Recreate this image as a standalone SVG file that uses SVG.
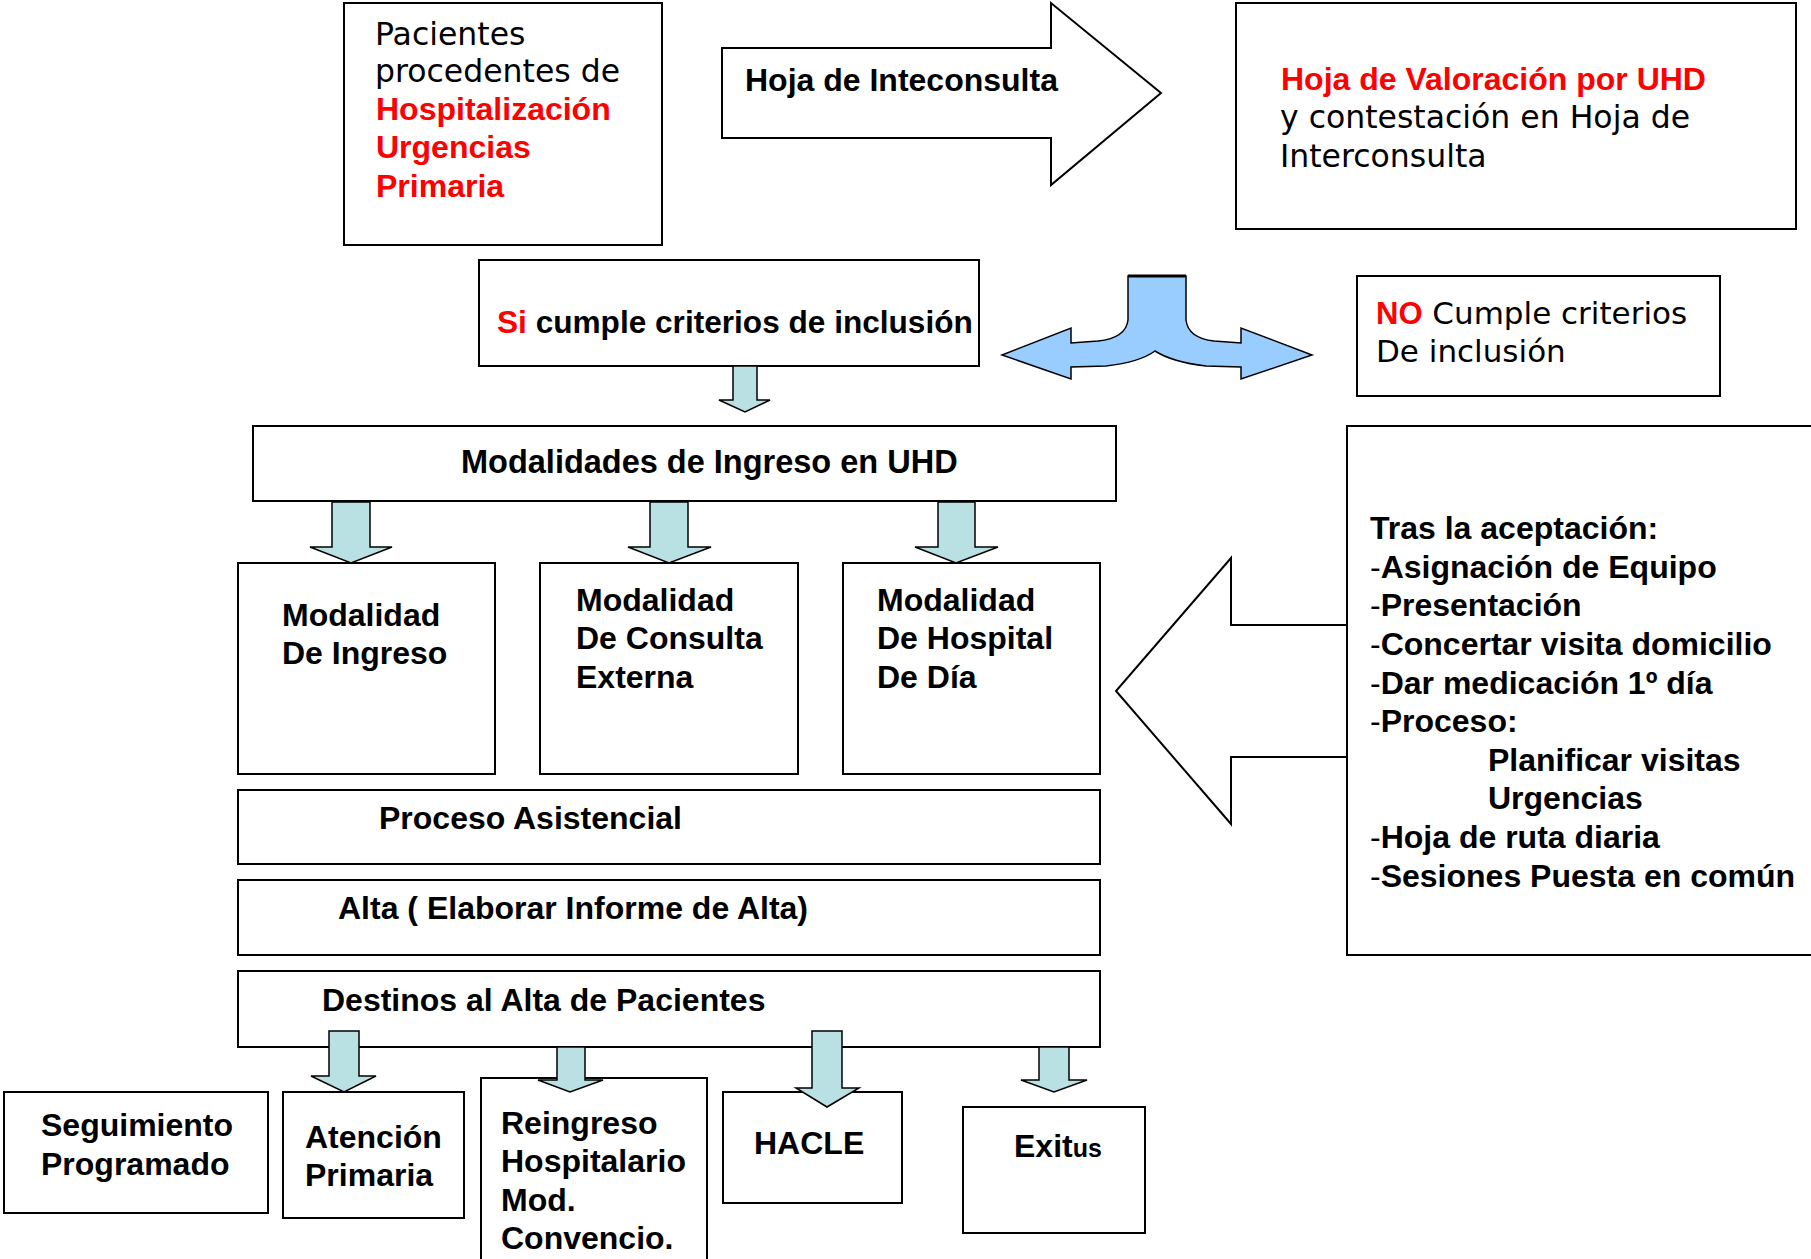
<svg xmlns="http://www.w3.org/2000/svg" width="1811" height="1259" viewBox="0 0 1811 1259">
<style>
.box{fill:#fff;stroke:#000;stroke-width:2}
.b{font-family:"Liberation Sans",Arial,sans-serif;font-weight:bold;font-size:32px;fill:#000}
.r{font-family:"DejaVu Sans",sans-serif;font-size:31.5px;fill:#000}
.red{fill:#ff0000}
.n{font-weight:normal}
.arr{fill:#b9e0e3;stroke:#000;stroke-width:1.5;stroke-linejoin:miter}
</style>
<rect width="1811" height="1259" fill="#fff"/>

<g id="pacientes">
<rect class="box" x="344" y="3" width="318" height="242"/>
<text class="r" x="375" y="45">Pacientes</text>
<text class="r" x="375" y="82">procedentes de</text>
<text class="b red" x="376" y="120">Hospitalización</text>
<text class="b red" x="376" y="158">Urgencias</text>
<text class="b red" x="376" y="197">Primaria</text>
</g>

<g id="hoja-interconsulta">
<polygon class="box" points="722,48 1051,48 1051,3 1161,93 1051,185 1051,138 722,138"/>
<text class="b" x="745" y="91">Hoja de Inteconsulta</text>
</g>

<g id="valoracion">
<rect class="box" x="1236" y="3" width="560" height="226"/>
<text class="b red" x="1281" y="90">Hoja de Valoración por UHD</text>
<text class="r" x="1280" y="128">y contestación en Hoja de</text>
<text class="r" x="1280" y="167">Interconsulta</text>
</g>

<g id="si-cumple">
<rect class="box" x="479" y="260" width="500" height="106"/>
<text class="b" x="497" y="333" style="font-size:31.6px"><tspan class="red" style="font-size:31.6px">Si</tspan> cumple criterios de inclusión</text>
</g>

<g id="no-cumple">
<rect class="box" x="1357" y="276" width="363" height="120"/>
<text class="r" x="1376" y="324" style="font-size:31px"><tspan class="b red" style="font-size:31px">NO</tspan> Cumple criterios</text>
<text class="r" x="1376" y="362" style="font-size:31px">De inclusión</text>
</g>

<g id="modalidades">
<rect class="box" x="253" y="426" width="863" height="75"/>
<text class="b" x="461" y="473" style="font-size:32.5px">Modalidades de Ingreso en UHD</text>
</g>

<g id="mod-ingreso">
<rect class="box" x="238" y="563" width="257" height="211"/>
<text class="b" x="282" y="626">Modalidad</text>
<text class="b" x="282" y="664">De Ingreso</text>
</g>

<g id="mod-consulta">
<rect class="box" x="540" y="563" width="258" height="211"/>
<text class="b" x="576" y="611">Modalidad</text>
<text class="b" x="576" y="649">De Consulta</text>
<text class="b" x="576" y="688">Externa</text>
</g>

<g id="mod-hospital">
<rect class="box" x="843" y="563" width="257" height="211"/>
<text class="b" x="877" y="611">Modalidad</text>
<text class="b" x="877" y="649">De Hospital</text>
<text class="b" x="877" y="688">De Día</text>
</g>

<g id="tras-aceptacion">
<rect class="box" x="1347" y="426" width="470" height="529"/>
<text class="b" x="1370" y="539">Tras la aceptación:</text>
<text class="b" x="1370" y="578"><tspan class="n">-</tspan>Asignación de Equipo</text>
<text class="b" x="1370" y="616"><tspan class="n">-</tspan>Presentación</text>
<text class="b" x="1370" y="655"><tspan class="n">-</tspan>Concertar visita domicilio</text>
<text class="b" x="1370" y="694"><tspan class="n">-</tspan>Dar medicación 1º día</text>
<text class="b" x="1370" y="732"><tspan class="n">-</tspan>Proceso:</text>
<text class="b" x="1488" y="771">Planificar visitas</text>
<text class="b" x="1488" y="809">Urgencias</text>
<text class="b" x="1370" y="848"><tspan class="n">-</tspan>Hoja de ruta diaria</text>
<text class="b" x="1370" y="887"><tspan class="n">-</tspan>Sesiones Puesta en común</text>
</g>

<g id="proceso">
<rect class="box" x="238" y="790" width="862" height="74"/>
<text class="b" x="379" y="829">Proceso Asistencial</text>
</g>

<g id="alta">
<rect class="box" x="238" y="880" width="862" height="75"/>
<text class="b" x="338" y="919">Alta ( Elaborar Informe de Alta)</text>
</g>

<g id="destinos">
<rect class="box" x="238" y="971" width="862" height="76"/>
<text class="b" x="322" y="1011">Destinos al Alta de Pacientes</text>
</g>

<g id="seguimiento">
<rect class="box" x="4" y="1092" width="264" height="121"/>
<text class="b" x="41" y="1136">Seguimiento</text>
<text class="b" x="41" y="1175">Programado</text>
</g>

<g id="atencion">
<rect class="box" x="283" y="1092" width="181" height="126"/>
<text class="b" x="305" y="1148">Atención</text>
<text class="b" x="305" y="1186">Primaria</text>
</g>

<g id="reingreso">
<rect class="box" x="481" y="1078" width="226" height="182"/>
<text class="b" x="501" y="1134">Reingreso</text>
<text class="b" x="501" y="1172">Hospitalario</text>
<text class="b" x="501" y="1211">Mod.</text>
<text class="b" x="501" y="1249">Convencio.</text>
</g>

<g id="hacle">
<rect class="box" x="723" y="1092" width="179" height="111"/>
<text class="b" x="754" y="1154">HACLE</text>
</g>

<g id="exitus">
<rect class="box" x="963" y="1107" width="182" height="126"/>
<text class="b" x="1014" y="1157">Exit<tspan style="font-size:25px">us</tspan></text>
</g>

<g id="connectors">
<polygon class="box" points="1347,625 1231,625 1231,558 1116,691 1231,824 1231,757 1347,757"/>
<path d="M1128,276 L1186,276 L1186,320 Q1188,338 1214,341 L1241,343 L1241,328 L1312,355 L1241,379 L1241,367 L1206,366 Q1172,362 1155,351 Q1140,362 1106,366 L1071,367 L1071,379 L1002,355 L1071,328 L1071,343 L1098,341 Q1126,338 1128,320 Z" fill="#99ccff" stroke="#000" stroke-width="1.5"/>
<line x1="1128" y1="276" x2="1186" y2="276" stroke="#000" stroke-width="3"/>
<polygon class="arr" points="733,366 757,366 757,400 770,400 745,412 719,400 733,400"/>
<polygon class="arr" points="332,502 370,502 370,547 392,547 351,563 310,547 332,547"/>
<polygon class="arr" points="650,502 688,502 688,547 711,547 669,563 628,547 650,547"/>
<polygon class="arr" points="938,502 975,502 975,547 998,547 956,563 915,547 938,547"/>
<polygon class="arr" points="329,1031 359,1031 359,1076 376,1076 344,1092 311,1076 329,1076"/>
<polygon class="arr" points="557,1047 585,1047 585,1080 603,1080 570,1092 538,1080 557,1080"/>
<polygon class="arr" points="812,1031 842,1031 842,1088 859,1088 827,1107 796,1088 812,1088"/>
<polygon class="arr" points="1039,1047 1069,1047 1069,1080 1087,1080 1054,1092 1021,1080 1039,1080"/>
</g>
</svg>
